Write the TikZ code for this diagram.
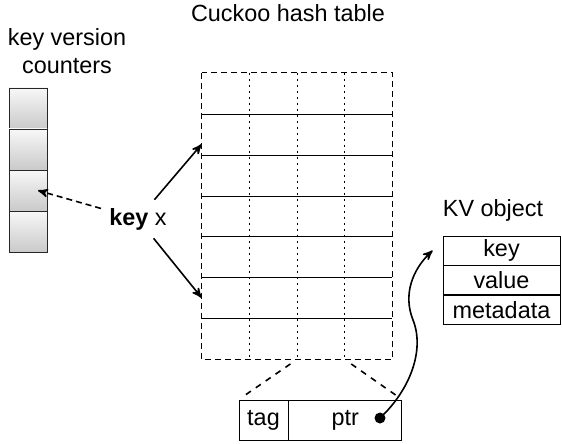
\documentclass[tikz,border=0pt]{standalone}
\usepackage{fontspec}
\setmainfont{Liberation Sans}
\usetikzlibrary{arrows,positioning,calc}

\begin{document}
\begin{tikzpicture}[x=0.5pt, y=-0.5pt, >=stealth', thin, font=\fontsize{11.7}{14}\selectfont]
    \tikzstyle{ctr}=[draw=black!85,top color=gray!6,bottom color=gray!42,minimum width=19pt,minimum height=20.5pt,inner sep=0]
    \tikzstyle{tblrow}=[minimum width=95pt,minimum height=20.43pt,inner sep=0]
    \tikzstyle{field}=[draw,minimum height=20pt,inner sep=0]
    \tikzstyle{kvrow}=[draw,minimum width=58.5pt,minimum height=14.5pt,inner sep=0]
    \tikzstyle{coldash}=[dash pattern=on 1.4pt off 1.6pt]
    \useasboundingbox (0,0) rectangle (562,444);

    % key version counters
    \node[align=center] (ctitle) at (67,51) {key version\\counters};
    \foreach \i in {1,...,4}
        \node[ctr] (c\i) at (28,{88+41*\i-20.5}) {};

    % cuckoo hash table
    \node (ttitle) at (288,13) {Cuckoo hash table};
    \foreach \i in {1,...,7}
        \node[tblrow] (r\i) at (297,{73+40.86*\i-20.43}) {};
    \draw[densely dashed] (r1.north west) rectangle (r7.south east);
    \foreach \i in {1,...,6}
        \draw (r\i.south west) -- (r\i.south east);
    \foreach \f in {0.25,0.5,0.75}
        \draw[coldash] ($(r1.north west)!\f!(r1.north east)$) -- ($(r7.south west)!\f!(r7.south east)$);

    % the key
    \node[inner sep=4pt] (keyx) at (138,219) {\textbf{key} x};

    % one slot
    \node[field,minimum width=24.5pt] (tag) at (263.5,420) {tag};
    \node[field,minimum width=56.5pt,right=0pt of tag] (ptr) {ptr};
    \node[circle,fill,inner sep=0,minimum size=5.5pt] (dot) at (380,418) {};
    \coordinate (s1) at ($(r7.south west)!0.5!(r7.south east)$);
    \coordinate (s2) at ($(r7.south west)!0.75!(r7.south east)$);

    % KV object
    \node (kvtitle) at (493,210) {KV object};
    \node[kvrow] (kkey) at (501.5,250.5) {key};
    \node[kvrow,below=0pt of kkey] (kval) {value};
    \node[kvrow,below=0pt of kval] (kmeta) {metadata};
    \coordinate (bend) at (413,320);

    \draw[->,thick,densely dashed] (keyx) -- ([xshift=5pt]c3.center);
    \draw[->,thick] (keyx) -- ([yshift=-5pt]r2.west);
    \draw[->,thick] (keyx) -- (r6.west);
    \draw[thick,dashed,shorten <=4pt,shorten >=3pt] (s1) -- (tag.north west);
    \draw[thick,dashed,shorten <=4pt,shorten >=3pt] (s2) -- (ptr.north east);
    \draw[->,thick] (dot.center) .. controls (410,390) and (425,350) .. (bend)
        .. controls (403,295) and (412,270) .. ([xshift=-5pt]kkey.west);

\end{tikzpicture}
\end{document}
